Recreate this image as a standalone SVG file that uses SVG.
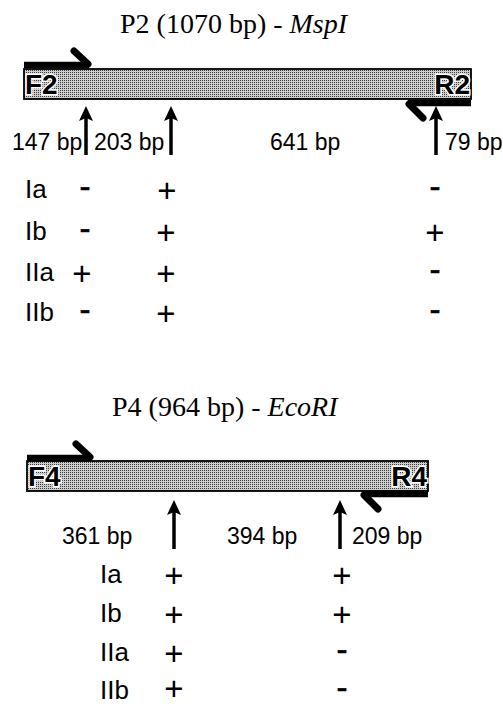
<svg xmlns="http://www.w3.org/2000/svg" width="503" height="707" viewBox="0 0 503 707">
  <defs>
    <!-- stippled fill of the amplicon bars -->
    <pattern id="stipple" width="2" height="2" patternUnits="userSpaceOnUse">
      <rect width="2" height="2" fill="#cdcdcd"/>
      <rect width="1" height="1" fill="#3c3c3c"/>
    </pattern>
    <!-- up arrow marking a restriction site -->
    <g id="site">
      <line x1="0" y1="11" x2="0" y2="49" stroke="#000" stroke-width="3.5"/>
      <path d="M0,0 L7,15 L0,12 L-7,15 Z" fill="#000"/>
    </g>
  </defs>
  <style>
    .title { font-family: "Liberation Serif", "Times New Roman", serif; font-size: 28px; fill: #000; }
    .title .it { font-style: italic; }
    .bar { fill: url(#stipple); stroke: #000; stroke-width: 1.8; }
    .primer { fill: none; stroke: #000; stroke-width: 6.5; stroke-linecap: butt; }
    .barb { fill: none; stroke: #000; stroke-width: 7; stroke-linecap: round; }
    .end { font-family: "Liberation Sans", Arial, sans-serif; font-weight: bold; font-size: 28px; fill: #000; stroke: #fff; stroke-width: 3; paint-order: stroke; }
    .bp { font-family: "Liberation Sans", Arial, sans-serif; font-size: 23px; fill: #000; }
    .row { font-family: "Liberation Sans", Arial, sans-serif; font-size: 26px; fill: #000; }
    .sign { font-family: "Liberation Sans", Arial, sans-serif; font-size: 33px; fill: #000; text-anchor: middle; }
    .dash { stroke: #000; stroke-width: 0.6; }
  </style>

  <!-- P2 amplicon, MspI digest -->
  <g id="p2">
    <text class="title" x="120" y="33">P2 (1070 bp) - <tspan class="it">MspI</tspan></text>
    <g id="p2-bar">
      <rect class="bar" x="24" y="69" width="447" height="30"/>
      <text class="end" x="25" y="94">F2</text>
      <text class="end" x="470" y="94" text-anchor="end">R2</text>
    </g>
    <g id="primer-F2">
      <path class="primer" d="M24,65 H89"/>
      <path class="barb" d="M88,64 L74,51"/>
    </g>
    <g id="primer-R2">
      <path class="primer" d="M471,103 H408"/>
      <path class="barb" d="M409,104 L423,118"/>
    </g>
    <g id="p2-sites">
      <use href="#site" x="86" y="106"/>
      <use href="#site" x="171" y="106"/>
      <use href="#site" x="436" y="106"/>
    </g>
    <g id="p2-fragments">
      <text class="bp" x="12" y="150">147 bp</text>
      <text class="bp" x="94" y="150">203 bp</text>
      <text class="bp" x="270" y="150">641 bp</text>
      <text class="bp" x="445" y="150">79 bp</text>
    </g>
    <g id="p2-table">
      <text class="row" x="25" y="198">Ia</text>
      <text class="row" x="25" y="240">Ib</text>
      <text class="row" x="25" y="281">IIa</text>
      <text class="row" x="25" y="321">IIb</text>
      <text class="sign dash" x="85" y="198">-</text>
      <text class="sign dash" x="85" y="240">-</text>
      <text class="sign" x="82" y="285">+</text>
      <text class="sign dash" x="85" y="321">-</text>
      <text class="sign" x="167" y="202">+</text>
      <text class="sign" x="166" y="244">+</text>
      <text class="sign" x="166" y="285">+</text>
      <text class="sign" x="166" y="325">+</text>
      <text class="sign dash" x="435" y="198">-</text>
      <text class="sign" x="435" y="244">+</text>
      <text class="sign dash" x="435" y="281">-</text>
      <text class="sign dash" x="435" y="321">-</text>
    </g>
  </g>

  <!-- P4 amplicon, EcoRI digest -->
  <g id="p4">
    <text class="title" x="112" y="416">P4 (964 bp) - <tspan class="it">EcoRI</tspan></text>
    <g id="p4-bar">
      <rect class="bar" x="27" y="461" width="401" height="30"/>
      <text class="end" x="28" y="486">F4</text>
      <text class="end" x="427" y="486" text-anchor="end">R4</text>
    </g>
    <g id="primer-F4">
      <path class="primer" d="M27,458 H91"/>
      <path class="barb" d="M90,457 L76,444"/>
    </g>
    <g id="primer-R4">
      <path class="primer" d="M428,494 H362"/>
      <path class="barb" d="M364,495 L378,509"/>
    </g>
    <g id="p4-sites">
      <use href="#site" x="174" y="500"/>
      <use href="#site" x="340" y="500"/>
    </g>
    <g id="p4-fragments">
      <text class="bp" x="62" y="544">361 bp</text>
      <text class="bp" x="227" y="544">394 bp</text>
      <text class="bp" x="352" y="544">209 bp</text>
    </g>
    <g id="p4-table">
      <text class="row" x="100" y="583">Ia</text>
      <text class="row" x="100" y="622">Ib</text>
      <text class="row" x="100" y="661">IIa</text>
      <text class="row" x="100" y="699">IIb</text>
      <text class="sign" x="174" y="587">+</text>
      <text class="sign" x="174" y="626">+</text>
      <text class="sign" x="174" y="665">+</text>
      <text class="sign" x="174" y="700">+</text>
      <text class="sign" x="342" y="587">+</text>
      <text class="sign" x="342" y="626">+</text>
      <text class="sign dash" x="342" y="661">-</text>
      <text class="sign dash" x="342" y="699">-</text>
    </g>
  </g>
</svg>
